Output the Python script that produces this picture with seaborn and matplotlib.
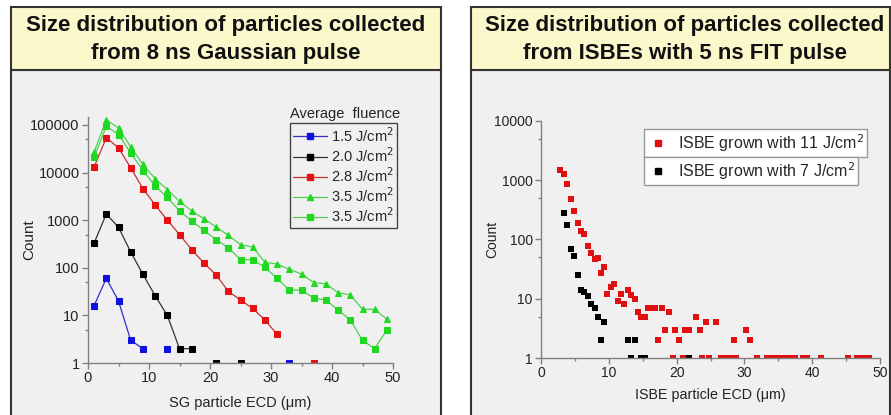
import numpy as np
import matplotlib
matplotlib.use('Agg')
import matplotlib.pyplot as plt
import seaborn as sns
import pandas as pd
from matplotlib.patches import Rectangle
from matplotlib.lines import Line2D
from matplotlib.ticker import FixedLocator, NullFormatter

sns.set_theme(style='ticks')
plt.rcParams['font.family'] = ['Liberation Sans', 'DejaVu Sans']

# ---- left panel: 8 ns Gaussian pulse (bins of 2 um) ----
ecd_sg = [1, 3, 5, 7, 9, 11, 13, 15, 17, 19, 21, 23, 25, 27, 29, 31, 33, 35, 37, 39, 41, 43, 45, 47, 49]
nan = np.nan
cnt_15 = [16, 60, 20, 3, 2, nan, 2, nan, nan, nan, nan, nan, nan, nan, nan, nan, 1, nan, nan, nan, nan, nan, nan, nan, nan]
cnt_20 = [330, 1350, 710, 215, 73, 26, 10, 2, 2, nan, 1, nan, 1, nan, nan, nan, nan, nan, nan, nan, nan, nan, nan, nan, nan]
cnt_28 = [13000, 54000, 33000, 12600, 4600, 2100, 1000, 500, 240, 126, 71, 32, 21, 14, 8, 4, nan, nan, 1, nan, nan, nan, nan, nan, nan]
cnt_35a = [27000, 127000, 87000, 34600, 15000, 7400, 4400, 2500, 1560, 1070, 720, 480, 307, 272, 130, 120, 93, 74, 49, 46, 30, 27, 13.4, 13.4, 8.3]
cnt_35b = [21000, 94000, 63000, 25700, 11000, 5300, 3000, 1570, 960, 610, 390, 265, 148, 148, 102, 60, 34, 34, 23, 21, 13, 8, 3, 2, 5]

fluence_labels = ['1.5 J/cm$^2$', '2.0 J/cm$^2$', '2.8 J/cm$^2$', '3.5 J/cm$^2$', '3.5 J/cm$^2$']

# ---- right panel: ISBEs with 5 ns FIT pulse ----
ecd_11 = [2.8, 3.4, 3.9, 4.4, 4.9, 5.4, 5.9, 6.4, 6.9, 7.4, 7.9, 8.4, 8.8, 9.3, 9.8, 10.3, 10.8, 11.3,
          11.8, 12.3, 12.8, 13.3, 13.8, 14.3, 14.8, 15.3, 15.8, 16.3, 16.8, 17.3, 17.8, 18.3, 18.9,
          19.4, 19.8, 20.4, 20.9, 21.3, 21.8, 22.8, 23.4, 23.8, 24.3, 24.8, 25.8, 26.6, 27.3, 28.0,
          28.4, 28.8, 30.3, 30.8, 31.9, 33.3, 33.8, 34.4, 34.9, 35.7, 36.3, 37.0, 37.5, 38.7, 39.3,
          41.3, 45.3, 46.6, 47.1, 48.0, 48.4]
cnt_11 = [1510, 1290, 875, 478, 299, 190, 139, 122, 78, 59, 46, 49, 27, 35, 12, 16, 17.5, 9,
          12, 8, 14, 11.4, 10, 6, 5, 5, 7, 7, 7, 2, 7, 3, 6,
          1, 3, 2, 1, 3, 3, 5, 3, 1, 4, 1, 4, 1, 1, 1,
          2, 1, 3, 2, 1, 1, 1, 1, 1, 1, 1, 1, 1, 1, 1,
          1, 1, 1, 1, 1, 1]
ecd_7 = [3.4, 3.9, 4.4, 4.9, 5.4, 5.9, 6.4, 6.9, 7.4, 7.9, 8.4, 8.8, 9.3, 12.8, 13.3, 13.9, 14.8, 15.3, 21.8]
cnt_7 = [280, 174, 70, 53, 25, 14, 13, 11, 8, 7, 5, 2, 4, 2, 1, 2, 1, 1, 1]

W, H = 891, 415
fig = plt.figure(figsize=(W / 100, H / 100), dpi=100)
fig.patch.set_facecolor('white')


def px_box(x0, y0, x1, y1, **kw):
    fig.patches.append(Rectangle((x0 / W, 1 - y1 / H), (x1 - x0) / W, (y1 - y0) / H,
                                 transform=fig.transFigure, zorder=-10, **kw))


# panel frames
for x0, x1 in [(10.7, 440.7), (470.7, 890.2)]:
    px_box(x0, 70, x1, 430, facecolor='#f0f0f0', edgecolor='#333333', lw=1.5)
    px_box(x0, 7, x1, 70, facecolor='#fbf8cc', edgecolor='#333333', lw=1.5)

title_kw = dict(ha='center', va='center', fontsize=16, fontweight='bold', color='#111111')
fig.text(225.7 / W, 1 - 26 / H, 'Size distribution of particles collected', **title_kw)
fig.text(225.7 / W, 1 - 53 / H, 'from 8 ns Gaussian pulse', **title_kw)
fig.text(685 / W, 1 - 26 / H, 'Size distribution of particles collected', **title_kw)
fig.text(685 / W, 1 - 53 / H, 'from ISBEs with 5 ns FIT pulse', **title_kw)


def style_axis(ax, ymax_dec, fs):
    ax.set_facecolor('none')
    ax.set_yscale('log')
    ax.set_xlim(0, 50)
    for s in ['top', 'right']:
        ax.spines[s].set_visible(False)
    for s in ['left', 'bottom']:
        ax.spines[s].set_color('#808080')
        ax.spines[s].set_linewidth(1.0)
    ax.xaxis.set_major_locator(FixedLocator([0, 10, 20, 30, 40, 50]))
    ax.xaxis.set_minor_locator(FixedLocator([5, 15, 25, 35, 45]))
    ax.yaxis.set_major_locator(FixedLocator([10 ** k for k in range(ymax_dec + 1)]))
    ax.yaxis.set_minor_locator(FixedLocator([5 * 10 ** k for k in range(ymax_dec)]))
    ax.set_yticklabels([str(10 ** k) for k in range(ymax_dec + 1)])
    ax.yaxis.set_minor_formatter(NullFormatter())
    ax.tick_params(which='major', length=4, width=1, color='#808080', labelsize=fs, labelcolor='#222222', pad=2)
    ax.tick_params(which='minor', length=2.5, width=1, color='#808080')


# ---- left axes ----
axL = fig.add_axes([88 / W, 1 - 363 / H, 305 / W, 246 / H])
series = [(cnt_15, '#1010e0', '#3030c8', 's'),
          (cnt_20, '#000000', '#333333', 's'),
          (cnt_28, '#e81010', '#c83030', 's'),
          (cnt_35a, '#20d820', '#50d050', '^'),
          (cnt_35b, '#20d820', '#50d050', 's')]
handles = []
for (vals, mc, lc, mk), lab in zip(series, fluence_labels):
    df = pd.DataFrame({'x': ecd_sg, 'y': vals})
    seg = df['y'].isna().cumsum()
    for _, part in df.dropna().groupby(seg[df['y'].notna()]):
        sns.lineplot(data=part, x='x', y='y', ax=axL, color=lc, lw=0.9, marker=mk, markersize=5,
                     markerfacecolor=mc, markeredgecolor=mc, sort=False, estimator=None, legend=False)
    handles.append(Line2D([], [], color=lc, lw=0.9, marker=mk, markersize=5,
                          markerfacecolor=mc, markeredgecolor=mc))
style_axis(axL, 5, 10.5)
axL.set_ylim(1, 1.47e5)
axL.set_xlabel('SG particle ECD (\u03bcm)', fontsize=10.5, color='#222222')
axL.xaxis.set_label_coords(0.5, -0.135)
axL.set_ylabel('Count', fontsize=11, color='#222222')
axL.yaxis.set_label_coords(-0.17, 0.5)
legL = axL.legend(handles, fluence_labels, loc='upper right', bbox_to_anchor=(1.013, 0.976),
                  borderaxespad=0, frameon=True, fancybox=False, fontsize=10.5, handlelength=2.3,
                  handletextpad=0.3, labelspacing=0.1, borderpad=0.2)
legL.get_frame().set_edgecolor('#444444')
legL.get_frame().set_facecolor('#f0f0f0')
legL.get_frame().set_linewidth(1.0)
legL.get_frame().set_alpha(1)
axL.text(0.843, 1.012, 'Average  fluence', transform=axL.transAxes, ha='center', va='center',
         fontsize=10.5, color='#222222')

# ---- right axes ----
axR = fig.add_axes([541 / W, 1 - 358 / H, 339 / W, 237 / H])
sns.scatterplot(x=ecd_11, y=cnt_11, ax=axR, color='#e01010', marker='s', s=20, linewidth=0)
sns.scatterplot(x=ecd_7, y=cnt_7, ax=axR, color='#000000', marker='s', s=20, linewidth=0)
style_axis(axR, 4, 10)
axR.set_ylim(1, 1e4)
axR.set_xlabel('ISBE particle ECD (\u03bcm)', fontsize=10.3, color='#222222')
axR.xaxis.set_label_coords(0.5, -0.125)
axR.set_ylabel('Count', fontsize=10, color='#222222')
axR.yaxis.set_label_coords(-0.124, 0.5)

leg_kw = dict(loc='upper left', borderaxespad=0, frameon=True, fancybox=False, fontsize=11.5,
              handletextpad=0.6, borderpad=0.2, handlelength=1.3)
mk11 = Line2D([], [], ls='', marker='s', markersize=4.5, color='#e01010')
mk7 = Line2D([], [], ls='', marker='s', markersize=4.5, color='#000000')
leg1 = axR.legend([mk11], ['ISBE grown with 11 J/cm$^2$'], bbox_to_anchor=(0.304, 0.966), **leg_kw)
axR.add_artist(leg1)
leg2 = axR.legend([mk7], ['ISBE grown with 7 J/cm$^2$'], bbox_to_anchor=(0.304, 0.848), **leg_kw)
for lg in (leg1, leg2):
    lg.get_frame().set_edgecolor('#999999')
    lg.get_frame().set_facecolor('white')
    lg.get_frame().set_alpha(1)
    lg.get_frame().set_linewidth(1.0)

fig.savefig('out.png', dpi=100)
